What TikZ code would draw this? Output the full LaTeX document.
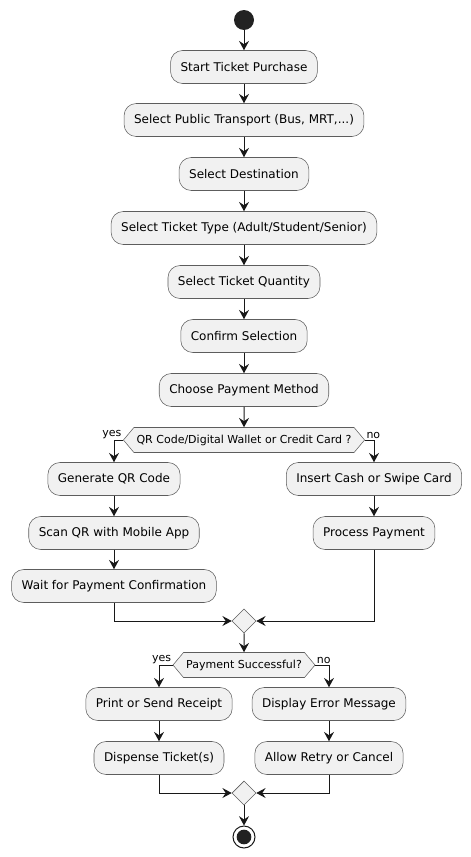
\documentclass[tikz,border=0pt]{standalone}
\usepackage{fontspec}
\setmainfont{DejaVu Sans}
\usetikzlibrary{arrows.meta,shapes.geometric,shapes.symbols}
\definecolor{boxfill}{HTML}{F1F1F1}
\definecolor{ink}{HTML}{181818}
\definecolor{dot}{HTML}{222222}
\begin{document}
\begin{tikzpicture}[
    x=0.75pt, y=-0.75pt,
    action/.style={rectangle, draw=ink!70, line width=0.4pt, fill=boxfill, rounded corners=9pt, minimum height=24.75pt, inner xsep=7.5pt, font=\fontsize{9}{11}\selectfont},
    choice/.style={signal, signal to=west and east, signal pointer angle=100, draw=ink!70, line width=0.4pt, fill=boxfill, minimum height=18.75pt, inner xsep=2pt, inner ysep=0pt, font=\fontsize{8.25}{10}\selectfont},
    merge/.style={diamond, draw=ink!70, line width=0.4pt, fill=boxfill, minimum width=18pt, minimum height=18pt, inner sep=0pt},
    guard/.style={font=\fontsize{8.25}{10}\selectfont, inner sep=1pt},
    arr/.style={draw=ink, line width=0.75pt, -{Stealth[length=7pt,width=7.5pt,inset=2.5pt]}}
]
\useasboundingbox (0,0) rectangle (471,857);

% Start
\node[circle, fill=dot, minimum size=15pt, inner sep=0pt] (start) at (244,20) {};

% Main sequence
\node[action] (buy) at (244,67) {Start Ticket Purchase};
\node[action] (transport) at (244,120) {Select Public Transport (Bus, MRT,...)};
\node[action] (dest) at (244,174) {Select Destination};
\node[action] (type) at (244,228) {Select Ticket Type (Adult/Student/Senior)};
\node[action] (qty) at (244,282) {Select Ticket Quantity};
\node[action] (confirm) at (244,336) {Confirm Selection};
\node[action] (method) at (244,390) {Choose Payment Method};

% First decision
\node[choice] (pay) at (244,440) {QR Code/Digital Wallet or Credit Card ?};
\node[action] (genqr) at (114,479) {Generate QR Code};
\node[action] (scan) at (114,533) {Scan QR with Mobile App};
\node[action] (wait) at (114,586) {Wait for Payment Confirmation};
\node[action] (cash) at (374,479) {Insert Cash or Swipe Card};
\node[action] (process) at (374,533) {Process Payment};
\node[merge] (join1) at (244,621) {};

% Second decision
\node[choice] (ok) at (244,665) {Payment Successful?};
\node[action] (receipt) at (159,704) {Print or Send Receipt};
\node[action] (dispense) at (159,758) {Dispense Ticket(s)};
\node[action] (error) at (329,704) {Display Error Message};
\node[action] (retry) at (329,758) {Allow Retry or Cancel};
\node[merge] (join2) at (244,793) {};

% End
\node[circle, draw=ink, line width=0.75pt, fill=white, minimum size=16.5pt, inner sep=0pt] (stop) at (244,837) {};
\node[circle, fill=dot, minimum size=11pt, inner sep=0pt] (stopdot) at (stop) {};

% Arrows
\draw[arr] (start) -- (buy);
\draw[arr] (buy) -- (transport);
\draw[arr] (transport) -- (dest);
\draw[arr] (dest) -- (type);
\draw[arr] (type) -- (qty);
\draw[arr] (qty) -- (confirm);
\draw[arr] (confirm) -- (method);
\draw[arr] (method) -- (pay);

\draw[arr] (pay.west) -| (genqr.north);
\node[guard, anchor=south east] (yes1) at (pay.west) {yes};
\draw[arr] (genqr) -- (scan);
\draw[arr] (scan) -- (wait);
\draw[arr] (pay.east) -| (cash.north);
\node[guard, anchor=south west] (no1) at (pay.east) {no};
\draw[arr] (cash) -- (process);
\draw[arr] (wait.south) |- (join1.west);
\draw[arr] (process.south) |- (join1.east);

\draw[arr] (join1) -- (ok);
\draw[arr] (ok.west) -| (receipt.north);
\node[guard, anchor=south east] (yes2) at (ok.west) {yes};
\draw[arr] (receipt) -- (dispense);
\draw[arr] (ok.east) -| (error.north);
\node[guard, anchor=south west] (no2) at (ok.east) {no};
\draw[arr] (error) -- (retry);
\draw[arr] (dispense.south) |- (join2.west);
\draw[arr] (retry.south) |- (join2.east);
\draw[arr] (join2) -- (stop);

\end{tikzpicture}
\end{document}
